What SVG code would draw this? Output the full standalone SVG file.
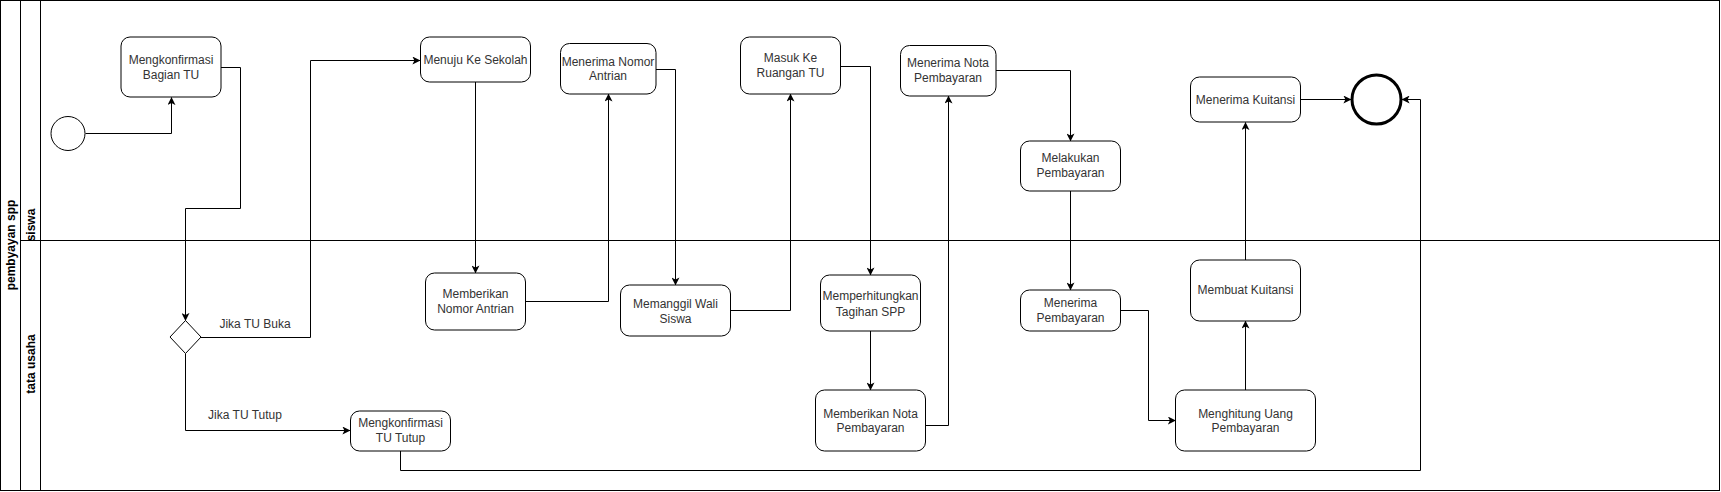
<svg xmlns="http://www.w3.org/2000/svg" width="1721" height="492" viewBox="0 0 1721 492">
<defs>
<marker id="arr" viewBox="0 0 10 10" refX="9.5" refY="5" markerWidth="8" markerHeight="8" markerUnits="userSpaceOnUse" orient="auto">
<path d="M0,0 L10,5 L0,10 L2.5,5 z" fill="#000"/>
</marker>
<clipPath id="lane1clip"><rect x="20" y="0" width="21" height="240"/></clipPath>
<style>
.lane{fill:none;stroke:#000;stroke-width:1}
.node rect{fill:#fff;stroke:#000;stroke-width:1}
.node text,.lbl{font-family:"Liberation Sans",Arial,sans-serif;font-size:12px;fill:#333;text-anchor:middle}
.hdr{font-family:"Liberation Sans",Arial,sans-serif;font-size:12px;font-weight:bold;fill:#000;text-anchor:middle}
.edge{fill:none;stroke:#000;stroke-width:1;marker-end:url(#arr)}
</style>
</defs>
<rect width="1721" height="492" fill="#fff"/>
<g id="pool">
<rect class="lane" x="0.5" y="0.5" width="1719" height="490"/>
<line class="lane" x1="20.5" y1="0.5" x2="20.5" y2="490.5"/>
<line class="lane" x1="40.5" y1="0.5" x2="40.5" y2="490.5"/>
<line class="lane" x1="20.5" y1="240.5" x2="1719.5" y2="240.5"/>
<text class="hdr" transform="translate(14.5,245) rotate(-90)">pembyayan spp</text>
<g clip-path="url(#lane1clip)"><text class="hdr" transform="translate(34.5,225) rotate(-90)">siswa</text></g>
<text class="hdr" transform="translate(34.5,364) rotate(-90)">tata usaha</text>
</g>
<g id="connectors">
<path class="edge" d="M85.5,133.5 H171.5 V97.5"/>
<path class="edge" d="M221,67.5 H240.5 V208.5 H185.5 V320.5"/>
<path class="edge" d="M201,337.5 H310.5 V60.5 H420"/>
<path class="edge" d="M185.5,353.5 V430.5 H350"/>
<path class="edge" d="M400.5,451 V470.5 H1420.5 V99.5 H1402"/>
<path class="edge" d="M475.5,82 V273"/>
<path class="edge" d="M526,301.5 H608.5 V94"/>
<path class="edge" d="M656,69.5 H675.5 V285"/>
<path class="edge" d="M730,310.5 H790.5 V94"/>
<path class="edge" d="M840,66.5 H870.5 V275"/>
<path class="edge" d="M870.5,331 V390"/>
<path class="edge" d="M926,425.5 H948.5 V96"/>
<path class="edge" d="M996,70.5 H1070.5 V141"/>
<path class="edge" d="M1070.5,191 V290"/>
<path class="edge" d="M1120,310.5 H1148.5 V420.5 H1175.5"/>
<path class="edge" d="M1245.5,390 V321"/>
<path class="edge" d="M1245.5,260 V122.5"/>
<path class="edge" d="M1300,99.5 H1351"/>
<text class="lbl" x="255" y="328">Jika TU Buka</text>
<text class="lbl" x="245" y="419">Jika TU Tutup</text>
</g>
<g id="start"><circle cx="68" cy="133.5" r="17" fill="#fff" stroke="#000" stroke-width="1"/></g>
<g id="end"><circle cx="1376.5" cy="99.5" r="24.5" fill="#fff" stroke="#000" stroke-width="3"/></g>
<g id="gateway"><path d="M185.5,320.5 L201,337 L185.5,353.5 L170,337 Z" fill="#fff" stroke="#000" stroke-width="1"/></g>
<g id="n_konfirmasi_tu" class="node"><rect x="121" y="37" width="100" height="60" rx="9"/><text x="171" y="64">Mengkonfirmasi</text><text x="171" y="79">Bagian TU</text></g>
<g id="n_menuju" class="node"><rect x="420.5" y="37" width="110" height="45" rx="9"/><text x="475.5" y="64">Menuju Ke Sekolah</text></g>
<g id="n_terima_nomor" class="node"><rect x="560.5" y="43.5" width="95.5" height="50.5" rx="9"/><text x="608" y="66">Menerima Nomor</text><text x="608" y="80">Antrian</text></g>
<g id="n_beri_nomor" class="node"><rect x="425.5" y="273" width="100" height="57" rx="9"/><text x="475.5" y="297.5">Memberikan</text><text x="475.5" y="313">Nomor Antrian</text></g>
<g id="n_panggil" class="node"><rect x="620.5" y="285" width="110" height="51" rx="9"/><text x="675.5" y="307.5">Memanggil Wali</text><text x="675.5" y="322.5">Siswa</text></g>
<g id="n_masuk" class="node"><rect x="740.5" y="37" width="100" height="57" rx="9"/><text x="790.5" y="62">Masuk Ke</text><text x="790.5" y="77">Ruangan TU</text></g>
<g id="n_hitung_tagihan" class="node"><rect x="820.5" y="275" width="100" height="56" rx="9"/><text x="870.5" y="300">Memperhitungkan</text><text x="870.5" y="316">Tagihan SPP</text></g>
<g id="n_beri_nota" class="node"><rect x="815.5" y="390" width="110" height="61" rx="9"/><text x="870.5" y="417.5">Memberikan Nota</text><text x="870.5" y="432">Pembayaran</text></g>
<g id="n_terima_nota" class="node"><rect x="900.5" y="45.5" width="95.5" height="50.5" rx="9"/><text x="948" y="67">Menerima Nota</text><text x="948" y="82">Pembayaran</text></g>
<g id="n_lakukan" class="node"><rect x="1020.5" y="141" width="100" height="50" rx="9"/><text x="1070.5" y="162">Melakukan</text><text x="1070.5" y="177">Pembayaran</text></g>
<g id="n_terima_bayar" class="node"><rect x="1020.5" y="290" width="100" height="41" rx="9"/><text x="1070.5" y="307">Menerima</text><text x="1070.5" y="322">Pembayaran</text></g>
<g id="n_hitung_uang" class="node"><rect x="1175.5" y="390" width="140" height="61" rx="9"/><text x="1245.5" y="417.5">Menghitung Uang</text><text x="1245.5" y="432">Pembayaran</text></g>
<g id="n_buat_kuitansi" class="node"><rect x="1190.5" y="260" width="110" height="61" rx="9"/><text x="1245.5" y="294">Membuat Kuitansi</text></g>
<g id="n_terima_kuitansi" class="node"><rect x="1190.5" y="77" width="110" height="45" rx="9"/><text x="1245.5" y="103.5">Menerima Kuitansi</text></g>
<g id="n_konfirmasi_tutup" class="node"><rect x="350.5" y="411" width="100" height="40" rx="9"/><text x="400.5" y="427">Mengkonfirmasi</text><text x="400.5" y="442">TU Tutup</text></g>
</svg>
